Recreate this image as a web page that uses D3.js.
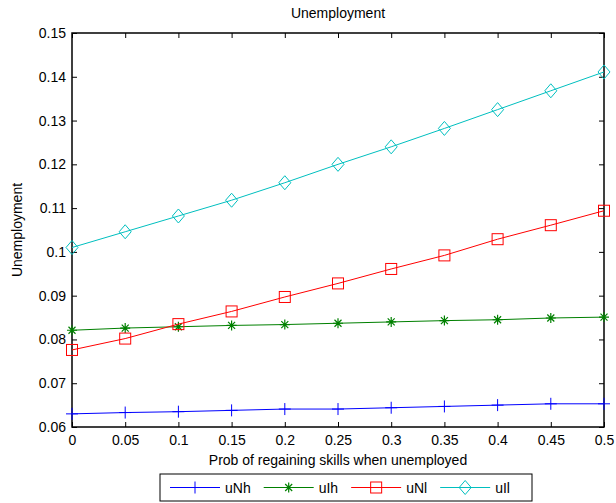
<!DOCTYPE html>
<html><head><meta charset="utf-8">
<script src="https://cdn.jsdelivr.net/npm/d3@7"></script>
<style>body{margin:0;background:#fff}svg{display:block}text{font-family:"Liberation Sans",Arial,sans-serif;}</style>
</head><body><svg id="c" width="616" height="503"></svg>
<script>
const xs = [0,0.05,0.1,0.15,0.2,0.25,0.3,0.35,0.4,0.45,0.5];
const uNh = [0.0630,0.0633,0.0635,0.0638,0.0641,0.0641,0.0644,0.0647,0.0650,0.0653,0.0653];
const uIh = [0.0821,0.0826,0.0829,0.0832,0.0834,0.0837,0.0840,0.0843,0.0845,0.0849,0.0851];
const uNl = [0.0776,0.0802,0.0835,0.0864,0.0897,0.0928,0.0961,0.0992,0.1029,0.1061,0.1094];
const uIl = [0.1010,0.1046,0.1082,0.1118,0.1158,0.1200,0.1240,0.1282,0.1325,0.1368,0.1411];
const seriesNames = ["uNh","uIh","uNl","uIl"];
const xTicks = [0,0.05,0.1,0.15,0.2,0.25,0.3,0.35,0.4,0.45,0.5];
const yTicks = [0.06,0.07,0.08,0.09,0.1,0.11,0.12,0.13,0.14,0.15];

const svg = d3.select("#c");
const L=72,R=604,T=33,B=427;
const x = d3.scaleLinear().domain([0,0.5]).range([L,R]);
const y = d3.scaleLinear().domain([0.06,0.15]).range([B,T]);
const series = [
  {name:seriesNames[0], v:uNh, color:"#0000ff", marker:"plus"},
  {name:seriesNames[1], v:uIh, color:"#008000", marker:"star"},
  {name:seriesNames[2], v:uNl, color:"#ff0000", marker:"square"},
  {name:seriesNames[3], v:uIl, color:"#00bfbf", marker:"diamond"}
];
const fmt = d => String(+d.toFixed(2));
const font = 14;
const tl = 5;
const gx = svg.append("g").attr("transform",`translate(0,${B})`)
  .call(d3.axisBottom(x).tickValues(xTicks).tickFormat(fmt).tickSizeInner(-tl).tickSizeOuter(0).tickPadding(8));
const gx2 = svg.append("g").attr("transform",`translate(0,${T})`)
  .call(d3.axisTop(x).tickValues(xTicks).tickFormat("").tickSizeInner(-tl).tickSizeOuter(0));
const gy = svg.append("g").attr("transform",`translate(${L},0)`)
  .call(d3.axisLeft(y).tickValues(yTicks).tickFormat(fmt).tickSizeInner(-tl).tickSizeOuter(0).tickPadding(6));
const gy2 = svg.append("g").attr("transform",`translate(${R},0)`)
  .call(d3.axisRight(y).tickValues(yTicks).tickFormat("").tickSizeInner(-tl).tickSizeOuter(0));
[gx,gx2,gy,gy2].forEach(g=>{
  g.select(".domain").remove();
  g.selectAll(".tick line").attr("stroke","#000").attr("stroke-width",1);
  g.selectAll("text").attr("font-size",font).attr("fill","#000").attr("font-family","Liberation Sans, Arial, sans-serif");
});
svg.append("rect").attr("x",L).attr("y",T).attr("width",R-L).attr("height",B-T)
  .attr("fill","none").attr("stroke","#000").attr("stroke-width",1.5);

function drawMarker(g, type, cx, cy, color){
  if(type==="plus"){
    g.append("path").attr("d",`M${cx-6},${cy}H${cx+6}M${cx},${cy-6}V${cy+6}`).attr("stroke",color).attr("stroke-width",1);
  } else if(type==="star"){
    const r=5;
    g.append("path").attr("d",`M${cx-r},${cy}H${cx+r}M${cx},${cy-r}V${cy+r}M${cx-r*0.7},${cy-r*0.7}L${cx+r*0.7},${cy+r*0.7}M${cx-r*0.7},${cy+r*0.7}L${cx+r*0.7},${cy-r*0.7}`).attr("stroke",color).attr("stroke-width",1.2);
  } else if(type==="square"){
    g.append("rect").attr("x",cx-5.5).attr("y",cy-5.5).attr("width",11).attr("height",11).attr("fill","none").attr("stroke",color).attr("stroke-width",1);
  } else if(type==="diamond"){
    g.append("path").attr("d",`M${cx},${cy-7}L${cx+6},${cy}L${cx},${cy+7}L${cx-6},${cy}Z`).attr("fill","none").attr("stroke",color).attr("stroke-width",1);
  }
}
const line = d3.line().x((d,i)=>x(xs[i])).y(d=>y(d));
series.forEach(s=>{
  const g = svg.append("g");
  g.append("path").attr("d",line(s.v)).attr("fill","none").attr("stroke",s.color).attr("stroke-width",1);
  s.v.forEach((v,i)=>drawMarker(g,s.marker,x(xs[i]),y(v),s.color));
});
svg.append("text").attr("x",(L+R)/2).attr("y",18).attr("text-anchor","middle").attr("font-size",font).text("Unemployment");
svg.append("text").attr("x",(L+R)/2).attr("y",465).attr("text-anchor","middle").attr("font-size",font).text("Prob of regaining skills when unemployed");
svg.append("text").attr("transform",`translate(22,${(T+B)/2}) rotate(-90)`).attr("text-anchor","middle").attr("font-size",font).text("Unemployment");
const lx=160, ly=474, lw=372, lh=27;
svg.append("rect").attr("x",lx).attr("y",ly).attr("width",lw).attr("height",lh).attr("fill","#fff").attr("stroke","#000").attr("stroke-width",1);
let cx = lx+10;
series.forEach(s=>{
  const g = svg.append("g");
  const my = ly+lh/2;
  g.append("line").attr("x1",cx).attr("x2",cx+50).attr("y1",my).attr("y2",my).attr("stroke",s.color).attr("stroke-width",1);
  drawMarker(g,s.marker,cx+25,my,s.color);
  const t = g.append("text").attr("x",cx+55).attr("y",my+5).attr("font-size",font).text(s.name);
  cx += 55 + t.node().getComputedTextLength() + 13;
});
</script></body></html>
